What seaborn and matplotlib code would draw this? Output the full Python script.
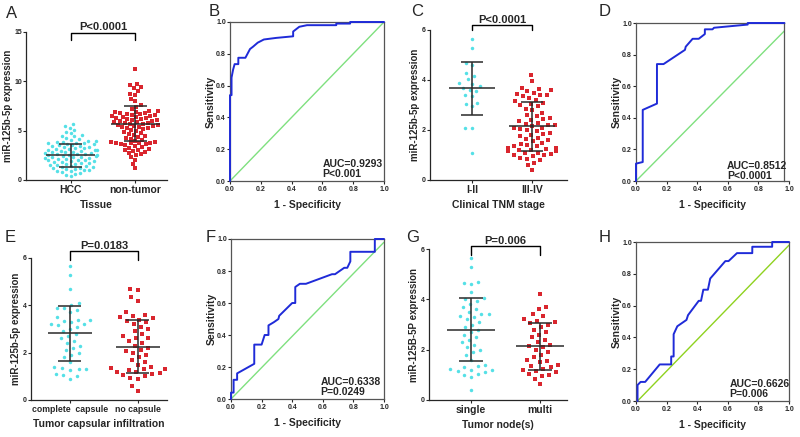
import matplotlib
matplotlib.use("Agg")
import matplotlib.pyplot as plt
import seaborn as sns

# ---------------- data ----------------
# A: tissue
hcc_vals = [5.7, 5.5, 5.3, 5.1, 4.9, 4.8, 4.6, 4.5, 4.45, 4.3, 4.2, 4.1, 4.0, 3.95, 3.9, 3.85, 3.8,
            3.75, 3.7, 3.65, 3.6, 3.55, 3.5, 3.45, 3.4, 3.35, 3.3, 3.25, 3.2, 3.15, 3.1, 3.05, 3.0,
            3.0, 2.95, 2.9, 2.85, 2.8, 2.8, 2.75, 2.7, 2.65, 2.6, 2.6, 2.55, 2.5, 2.5, 2.45, 2.4,
            2.35, 2.3, 2.3, 2.25, 2.2, 2.15, 2.1, 2.05, 2.0, 2.0, 1.95, 1.9, 1.85, 1.8, 1.75, 1.7,
            1.65, 1.6, 1.55, 1.5, 1.45, 1.4, 1.35, 1.3, 1.25, 1.2, 1.15, 1.1, 1.05, 1.0, 0.95, 0.9,
            0.8, 0.7, 0.6, 0.5, 0.4]
nontumor_vals = [11.2, 9.7, 9.6, 9.4, 9.3, 9.0, 8.7, 8.6, 8.2, 8.0, 7.6, 7.4, 7.2, 7.0, 7.0, 6.9,
                 6.9, 6.8, 6.8, 6.7, 6.7, 6.6, 6.6, 6.5, 6.5, 6.4, 6.4, 6.3, 6.3, 6.2, 6.2, 6.1, 6.1,
                 6.0, 6.0, 5.9, 5.9, 5.8, 5.8, 5.7, 5.7, 5.6, 5.6, 5.5, 5.5, 5.4, 5.4, 5.3, 5.3, 5.2,
                 5.1, 5.0, 4.9, 4.8, 4.7, 4.6, 4.5, 4.4, 4.3, 4.2, 4.1, 4.0, 3.9, 3.9, 3.8, 3.8, 3.7,
                 3.7, 3.6, 3.6, 3.5, 3.4, 3.3, 3.2, 3.1, 3.0, 3.0, 2.9, 2.8, 2.7, 2.6, 2.5, 2.3, 2.0,
                 1.6, 1.2]
a_cats = ["HCC", "non-tumor"]
a_mean = [2.53, 5.72]
a_lo = [1.35, 3.97]
a_hi = [3.64, 7.47]

# C: clinical TNM stage
early_vals = [5.65, 5.3, 4.7, 4.6, 4.3, 4.15, 4.05, 3.9, 3.85, 3.75, 3.7, 3.6, 3.55, 3.4, 3.35,
              3.1, 3.05, 2.95, 2.1, 2.1, 1.1]
late_vals = [4.2, 3.95, 3.7, 3.65, 3.6, 3.55, 3.5, 3.45, 3.4, 3.4, 3.35, 3.3, 3.2, 3.15, 3.1, 3.05,
             3.0, 2.95, 2.85, 2.8, 2.7, 2.6, 2.55, 2.5, 2.45, 2.4, 2.35, 2.3, 2.25, 2.2, 2.2, 2.15,
             2.1, 2.1, 2.05, 2.0, 1.95, 1.9, 1.85, 1.8, 1.75, 1.7, 1.65, 1.6, 1.55, 1.5, 1.45, 1.4,
             1.35, 1.35, 1.3, 1.3, 1.25, 1.25, 1.2, 1.2, 1.15, 1.15, 1.1, 1.1, 1.05, 1.0, 1.0, 0.95,
             0.9, 0.85, 0.8, 0.7, 0.6, 0.4]
c_cats = ["I-II", "III-IV"]
c_mean = [3.67, 2.16]
c_lo = [2.6, 1.17]
c_hi = [4.73, 3.13]

# E: tumor capsular infiltration
capsule_vals = [5.65, 5.3, 4.7, 4.1, 4.0, 3.9, 3.9, 3.8, 3.7, 3.5, 3.4, 3.4, 3.35, 3.3, 3.2, 3.2,
                3.15, 3.1, 3.0, 2.9, 2.8, 2.7, 2.6, 2.5, 2.4, 2.3, 2.2, 2.1, 2.0, 1.9, 1.8, 1.6,
                1.4, 1.35, 1.3, 1.3, 1.25, 1.1, 1.05, 1.0, 0.9]
nocapsule_vals = [4.7, 4.65, 4.35, 4.2, 3.7, 3.6, 3.55, 3.5, 3.45, 3.4, 3.35, 3.3, 3.2, 3.1, 3.0,
                  2.9, 2.8, 2.7, 2.6, 2.6, 2.5, 2.4, 2.3, 2.2, 2.1, 2.05, 2.0, 1.9, 1.8, 1.7, 1.6,
                  1.5, 1.4, 1.35, 1.3, 1.3, 1.25, 1.2, 1.2, 1.15, 1.1, 1.05, 1.0, 0.95, 0.9, 0.6, 0.4]
e_cats = ["complete  capsule", "no capsule"]
e_mean = [2.82, 2.26]
e_lo = [1.65, 1.13]
e_hi = [3.97, 3.36]

# G: tumor nodes
single_vals = [5.65, 5.3, 4.7, 4.65, 4.6, 4.3, 4.05, 4.0, 3.95, 3.8, 3.7, 3.6, 3.5, 3.4, 3.4, 3.35,
               3.3, 3.2, 3.1, 3.0, 2.9, 2.8, 2.7, 2.6, 2.5, 2.4, 2.3, 2.2, 2.1, 2.0, 1.9, 1.8, 1.6,
               1.4, 1.35, 1.3, 1.25, 1.2, 1.2, 1.15, 1.1, 1.05, 1.0, 0.9, 0.4]
multi_vals = [4.2, 3.7, 3.6, 3.4, 3.35, 3.2, 3.15, 3.1, 3.05, 3.0, 2.9, 2.8, 2.7, 2.6, 2.5, 2.4,
              2.3, 2.2, 2.15, 2.1, 2.0, 1.9, 1.8, 1.7, 1.6, 1.55, 1.5, 1.4, 1.35, 1.3, 1.25, 1.2,
              1.15, 1.1, 1.05, 1.0, 0.95, 0.85, 0.65]
g_cats = ["single", "multi"]
g_mean = [2.80, 2.15]
g_lo = [1.54, 1.21]
g_hi = [4.04, 3.05]

# ROC curves
b_fpr = [0, 0, 0.01, 0.01, 0.02, 0.03, 0.054, 0.054, 0.10, 0.13, 0.15, 0.18, 0.22, 0.30, 0.41, 0.41,
         0.45, 0.50, 0.69, 0.69, 0.78, 0.78, 1.0]
b_tpr = [0, 0.54, 0.54, 0.65, 0.70, 0.735, 0.735, 0.775, 0.775, 0.83, 0.845, 0.87, 0.89, 0.90, 0.91,
         0.94, 0.97, 0.98, 0.98, 0.99, 0.99, 1.0, 1.0]
b_ref_x = [0, 1.0]
b_ref_y = [0, 1.0]

d_fpr = [0, 0, 0.044, 0.044, 0.137, 0.137, 0.18, 0.32, 0.325, 0.37, 0.41, 0.45, 0.45, 0.50, 0.51,
         0.62, 0.73, 0.73, 0.97]
d_tpr = [0, 0.11, 0.12, 0.45, 0.49, 0.74, 0.74, 0.83, 0.85, 0.90, 0.90, 0.93, 0.96, 0.96, 0.97,
         0.98, 0.99, 1.0, 1.0]
d_ref_x = [0, 0.97]
d_ref_y = [0, 0.95]

f_fpr = [0, 0, 0.017, 0.017, 0.04, 0.04, 0.152, 0.152, 0.20, 0.22, 0.245, 0.245, 0.28, 0.31, 0.315,
         0.40, 0.42, 0.42, 0.45, 0.49, 0.66, 0.68, 0.74, 0.76, 0.78, 0.78, 0.94, 0.94, 1.0]
f_tpr = [0, 0.04, 0.04, 0.12, 0.12, 0.16, 0.22, 0.34, 0.34, 0.40, 0.40, 0.46, 0.48, 0.50, 0.52,
         0.60, 0.60, 0.70, 0.72, 0.72, 0.78, 0.78, 0.82, 0.82, 0.86, 0.92, 0.92, 1.0, 1.0]
f_ref_x = [0, 1.0]
f_ref_y = [0, 0.98]

h_fpr = [0.01, 0.01, 0.03, 0.06, 0.155, 0.23, 0.23, 0.246, 0.246, 0.27, 0.33, 0.34, 0.41, 0.425,
         0.44, 0.47, 0.485, 0.584, 0.605, 0.66, 0.76, 0.76, 0.89, 0.89, 1.0]
h_tpr = [0, 0.10, 0.12, 0.12, 0.23, 0.23, 0.28, 0.28, 0.42, 0.47, 0.51, 0.54, 0.63, 0.63, 0.70,
         0.70, 0.77, 0.88, 0.88, 0.93, 0.93, 0.97, 0.97, 1.0, 1.0]
h_ref_x = [0.01, 1.0]
h_ref_y = [0, 0.98]

# ---------------- style ----------------
sns.set_theme(style="ticks")
plt.rcParams['font.family'] = ['Liberation Sans', 'DejaVu Sans']
plt.rcParams['font.weight'] = 'bold'
plt.rcParams['axes.labelweight'] = 'bold'
plt.rcParams['axes.linewidth'] = 0.9
plt.rcParams['xtick.major.size'] = 2
plt.rcParams['ytick.major.size'] = 2
plt.rcParams['xtick.major.width'] = 0.8
plt.rcParams['ytick.major.width'] = 0.8
plt.rcParams['xtick.major.pad'] = 1.5
plt.rcParams['ytick.major.pad'] = 1

CYAN = "#55E0E6"
RED = "#D9262E"
ERR = "#2A2A2A"
BLUE = "#1F2BD8"
GREEN = "#7FE07F"
LIME = "#8FD21F"
DOT = 2.5  # final marker size (pt)

W, H = 800, 437
fig = plt.figure(figsize=(8, 4.37), dpi=100)
swarm_axes = []


def box(l, r, t, b):
    return [l / W, 1 - b / H, (r - l) / W, (b - t) / H]


def dot_panel(rect, cats, vals_a, vals_b, mean, lo, hi, ymax, yticks, xlim,
              xlabel, ylabel, ptxt, br_top, br_leg, txt_y, half=0.38, cap=0.18,
              spacing=5.0, xfont=7.5):
    ax = fig.add_axes(rect)
    # swarm laid out with a bigger spacing marker, shrunk after layout
    sns.swarmplot(x=[cats[0]] * len(vals_a), y=vals_a, order=cats, color=CYAN,
                  marker='o', size=spacing, linewidth=0, ax=ax, zorder=2, warn_thresh=1)
    sns.swarmplot(x=[cats[1]] * len(vals_b), y=vals_b, order=cats, color=RED,
                  marker='s', size=spacing, linewidth=0, ax=ax, zorder=2, warn_thresh=1)
    for i in range(2):
        ax.hlines(mean[i], i - half, i + half, color=ERR, lw=1.1, zorder=5)
        ax.hlines([lo[i], hi[i]], i - cap, i + cap, color=ERR, lw=1.1, zorder=5)
        ax.vlines(i, lo[i], hi[i], color=ERR, lw=1.1, zorder=5)
    ax.plot([0, 0, 1, 1], [br_leg, br_top, br_top, br_leg], color='black', lw=1.0,
            clip_on=False)
    ax.text(0.5, txt_y, ptxt, ha='center', va='bottom', fontsize=8, fontweight='bold')
    ax.set_ylim(0, ymax)
    ax.set_yticks(yticks)
    ax.set_xlim(*xlim)
    sns.despine(ax=ax)
    ax.tick_params(axis='y', labelsize=5)
    ax.tick_params(axis='x', labelsize=xfont)
    ax.set_xlabel(xlabel, fontsize=7.5, labelpad=4)
    ax.set_ylabel(ylabel, fontsize=7, labelpad=1)
    swarm_axes.append(ax)
    return ax


def roc_panel(rect, fpr, tpr, ref_x, ref_y, ref_color, auc, pval, tx, ty, right=1.0):
    ax = fig.add_axes(rect)
    sns.lineplot(x=ref_x, y=ref_y, sort=False, estimator=None, color=ref_color, lw=1.0, ax=ax)
    sns.lineplot(x=fpr, y=tpr, sort=False, estimator=None, color=BLUE, lw=1.4, ax=ax,
                 clip_on=False, zorder=3)
    ax.set_xlim(0, 1)
    ax.set_ylim(0, 1)
    ticks = [0, 0.2, 0.4, 0.6, 0.8, 1.0]
    ax.set_xticks(ticks)
    ax.set_yticks(ticks)
    ax.set_xticklabels([f"{t:.1f}" for t in ticks])
    ax.set_yticklabels([f"{t:.1f}" for t in ticks])
    for s in ax.spines.values():
        s.set_color("#555555")
    if right < 1.0:
        ax.spines['right'].set_position(('data', right))
        ax.spines['top'].set_bounds(0, right)
    ax.tick_params(labelsize=5)
    ax.set_xlabel("1 - Specificity", fontsize=7.5, labelpad=5)
    ax.set_ylabel("Sensitivity", fontsize=7.5, labelpad=0.5)
    ax.text(tx, ty, auc, fontsize=7.5, fontweight='bold', va='center')
    ax.text(tx, ty - 0.065, pval, fontsize=7.5, fontweight='bold', va='center')
    return ax


dot_panel(box(26, 167, 32, 180), a_cats, hcc_vals, nontumor_vals, a_mean, a_lo, a_hi,
          15, [0, 5, 10, 15], (-0.69, 1.49), "Tissue", "miR-125b-5p expression",
          "P<0.0001", 14.9, 14.2, 14.95, spacing=3.4)
roc_panel(box(230, 384, 22, 181), b_fpr, b_tpr, b_ref_x, b_ref_y, GREEN,
          "AUC=0.9293", "P<0.001", 0.60, 0.11)
dot_panel(box(430, 567, 30, 180), c_cats, early_vals, late_vals, c_mean, c_lo, c_hi,
          6, [0, 2, 4, 6], (-0.70, 1.58), "Clinical TNM stage", "miR-125b-5p expression",
          "P<0.0001", 6.2, 6.0, 6.2, spacing=4.6)
roc_panel(box(636, 789, 23, 181), d_fpr, d_tpr, d_ref_x, d_ref_y, GREEN,
          "AUC=0.8512", "P<0.0001", 0.595, 0.097, right=0.97)
dot_panel(box(31, 167, 258, 400), e_cats, capsule_vals, nocapsule_vals, e_mean, e_lo, e_hi,
          6, [0, 2, 4, 6], (-0.574, 1.43), "Tumor capsular infiltration",
          "miR-125b-5p expression", "P=0.0183", 6.3, 5.9, 6.3, half=0.32, cap=0.17,
          spacing=5.2, xfont=6.3)
roc_panel(box(231, 384, 239, 399), f_fpr, f_tpr, f_ref_x, f_ref_y, GREEN,
          "AUC=0.6338", "P=0.0249", 0.586, 0.106)
dot_panel(box(429, 567, 249, 400), g_cats, single_vals, multi_vals, g_mean, g_lo, g_hi,
          6, [0, 2, 4, 6], (-0.61, 1.39), "Tumor node(s)", "miR-125B-5P expression",
          "P=0.006", 6.1, 5.75, 6.1, half=0.35, cap=0.17, spacing=5.2)
roc_panel(box(636, 789, 242, 401), h_fpr, h_tpr, h_ref_x, h_ref_y, LIME,
          "AUC=0.6626", "P=0.006", 0.61, 0.107)

for letter, x, y in [("A", 6, 13), ("B", 209, 11), ("C", 411, 12), ("D", 599, 11),
                     ("E", 5, 237), ("F", 206, 237), ("G", 406, 237), ("H", 599, 237)]:
    fig.text(x / W, 1 - y / H, letter, fontsize=12, fontweight='normal', va='center', ha='left')

# run the swarm layout once, then freeze it and shrink the markers
fig.canvas.draw()
for ax in swarm_axes:
    for coll in ax.collections:
        if 'draw' in coll.__dict__:
            del coll.draw
            coll.set_sizes([DOT ** 2])

fig.savefig("out.png", dpi=100)
